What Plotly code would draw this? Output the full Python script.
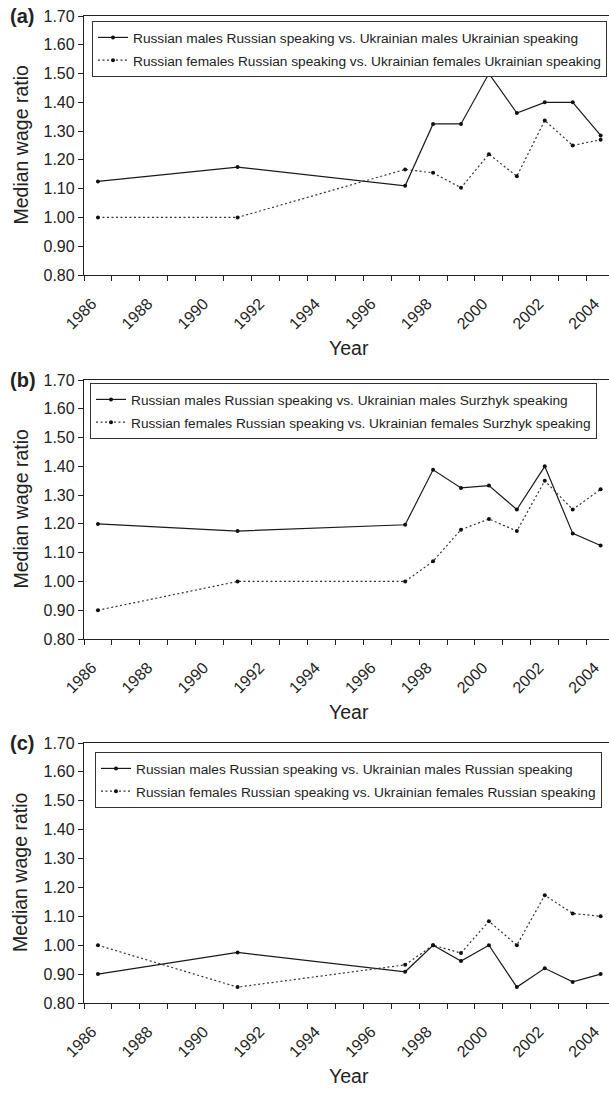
import plotly.graph_objects as go

# Survey years with observations
years = [1986, 1991, 1997, 1998, 1999, 2000, 2001, 2002, 2003, 2004]

# (a) Russian-speaking Russians vs. Ukrainian-speaking Ukrainians
a_males = [1.125, 1.175, 1.110, 1.325, 1.325, 1.500, 1.363, 1.400, 1.400, 1.285]
a_females = [1.000, 1.000, 1.167, 1.155, 1.103, 1.220, 1.143, 1.337, 1.250, 1.270]

# (b) Russian-speaking Russians vs. Surzhyk-speaking Ukrainians
b_males = [1.200, 1.175, 1.197, 1.388, 1.325, 1.333, 1.250, 1.400, 1.167, 1.125]
b_females = [0.900, 1.000, 1.000, 1.070, 1.180, 1.217, 1.175, 1.350, 1.250, 1.320]

# (c) Russian-speaking Russians vs. Russian-speaking Ukrainians
c_males = [0.900, 0.975, 0.908, 1.000, 0.945, 1.000, 0.855, 0.920, 0.873, 0.900]
c_females = [1.000, 0.855, 0.932, 1.000, 0.973, 1.083, 1.000, 1.173, 1.110, 1.100]

panel_letters = ["(a)", "(b)", "(c)"]
legend_names = [
    ("Russian males Russian speaking vs. Ukrainian males Ukrainian speaking",
     "Russian females Russian speaking vs. Ukrainian females Ukrainian speaking"),
    ("Russian males Russian speaking vs. Ukrainian males Surzhyk speaking",
     "Russian females Russian speaking vs. Ukrainian females Surzhyk speaking"),
    ("Russian males Russian speaking vs. Ukrainian males Russian speaking",
     "Russian females Russian speaking vs. Ukrainian females Russian speaking"),
]
series = [(a_males, a_females), (b_males, b_females), (c_males, c_females)]

x_labels = [str(y) for y in range(1986, 2005, 2)]
y_ticks = [0.8, 0.9, 1.0, 1.1, 1.2, 1.3, 1.4, 1.5, 1.6, 1.7]

W, H = 609, 1095
FONT = "Liberation Sans, Arial, sans-serif"
INK = "#222222"

# pixel layout of each panel: (plot top, plot bottom, legend top)
panel_px = [(16, 275, 21), (380, 639, 383), (743, 1003, 752)]
plot_left = 84
legend_left = [92, 90, 95]

fig = go.Figure()

for i, ((males, females), (n_m, n_f)) in enumerate(zip(series, legend_names)):
    ax = "" if i == 0 else str(i + 1)
    lg = "legend" if i == 0 else f"legend{i + 1}"
    fig.add_trace(go.Scatter(
        x=years, y=males, name=n_m, mode="lines+markers",
        line=dict(color="#1a1a1a", width=1.2),
        marker=dict(color="#111111", size=4),
        xaxis="x" + ax, yaxis="y" + ax, legend=lg, legendgroup=f"m{i}",
    ))
    fig.add_trace(go.Scatter(
        x=years, y=females, name=n_f, mode="lines+markers",
        line=dict(color="#333333", width=1.2, dash="2px,2.5px"),
        marker=dict(color="#111111", size=4),
        xaxis="x" + ax, yaxis="y" + ax, legend=lg, legendgroup=f"f{i}",
    ))

    top, bottom, ltop = panel_px[i]
    ydom = [1 - bottom / H, 1 - top / H]
    xaxis = dict(
        domain=[plot_left / W, 1], range=[1985.5, 2004.3], automargin=False,
        anchor="y" + ax, showline=True, linecolor=INK, linewidth=1.3, mirror=True,
        showgrid=False, zeroline=False,
        tickmode="array", tickvals=list(range(1986, 2005, 2)), ticktext=x_labels,
        ticks="", tickangle=-45, ticklabelstandoff=12, ticklabelshift=-6,
        tickfont=dict(family=FONT, size=16, color=INK),
        minor=dict(tickmode="array",
                   tickvals=[y + 0.5 for y in range(1985, 2004)],
                   ticks="outside", ticklen=5, tickwidth=1.2, tickcolor=INK),
    )
    yaxis = dict(
        domain=ydom, range=[0.8, 1.7], anchor="x" + ax, automargin=False,
        showline=True, linecolor=INK, linewidth=1.3, mirror=False,
        showgrid=False, zeroline=False,
        tickmode="array", tickvals=y_ticks, tickformat=".2f",
        ticks="outside", ticklen=5, tickwidth=1.2, tickcolor=INK,
        tickfont=dict(family=FONT, size=16, color=INK),
    )
    fig.update_layout({"xaxis" + ax: xaxis, "yaxis" + ax: yaxis})

    fig.update_layout({lg: dict(
        x=legend_left[i] / W, y=1 - ltop / H, xanchor="left", yanchor="top",
        xref="paper", yref="paper",
        bgcolor="white", bordercolor="#333333", borderwidth=1,
        font=dict(family=FONT, size=13.7, color=INK),
        tracegroupgap=2, itemwidth=30,
    )})

    # axis titles and panel letter
    fig.add_annotation(text="Year", xref="x" + ax, x=1995, yref="y" + ax + " domain", y=0,
                       yanchor="top", yshift=-60, showarrow=False,
                       font=dict(family=FONT, size=19.5, color=INK))
    fig.add_annotation(text="Median wage ratio", textangle=-90, xref="paper", x=20 / W,
                       xanchor="center", yref="y" + ax + " domain", y=0.5, yanchor="middle",
                       showarrow=False, font=dict(family=FONT, size=19.5, color=INK))
    fig.add_annotation(text="<b>" + panel_letters[i] + "</b>", xref="paper", x=8 / W,
                       xanchor="left", yref="y" + ax, y=1.70, yanchor="middle",
                       showarrow=False, font=dict(family=FONT, size=20, color=INK))

fig.update_layout(
    width=W, height=H, margin=dict(l=0, r=0, t=0, b=0, autoexpand=False),
    paper_bgcolor="white", plot_bgcolor="white", showlegend=True,
)

fig.write_html("out.html")
